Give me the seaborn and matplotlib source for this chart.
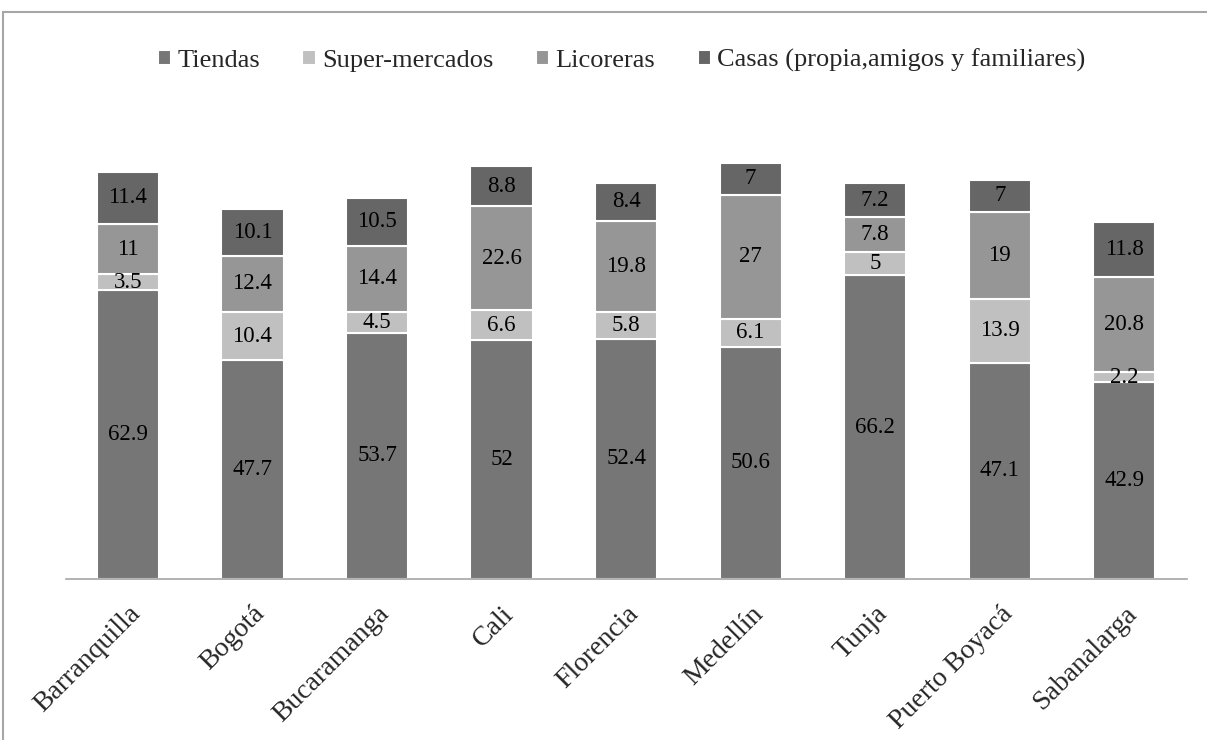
import numpy as np
import pandas as pd
import matplotlib
matplotlib.use('Agg')
import matplotlib.pyplot as plt
import seaborn as sns

# Data
cities = ['Barranquilla', 'Bogotá', 'Bucaramanga', 'Cali', 'Florencia',
          'Medellín', 'Tunja', 'Puerto Boyacá', 'Sabanalarga']
tiendas = [62.9, 47.7, 53.7, 52, 52.4, 50.6, 66.2, 47.1, 42.9]
supermercados = [3.5, 10.4, 4.5, 6.6, 5.8, 6.1, 5, 13.9, 2.2]
licoreras = [11, 12.4, 14.4, 22.6, 19.8, 27, 7.8, 19, 20.8]
casas = [11.4, 10.1, 10.5, 8.8, 8.4, 7, 7.2, 7, 11.8]

series = [
    ('Tiendas', tiendas, '#767676'),
    ('Super-mercados', supermercados, '#c0c0c0'),
    ('Licoreras', licoreras, '#969696'),
    ('Casas (propia,amigos y familiares)', casas, '#666666'),
]

sns.set_style('white')
plt.rcParams['font.family'] = ['Liberation Serif', 'DejaVu Serif']

fig = plt.figure(figsize=(12.07, 7.40), dpi=100)
ax = fig.add_axes([0.0544, 0.2176, 0.9287, 0.62])

bottom = np.zeros(len(cities))
for name, vals, col in series:
    df = pd.DataFrame({'city': cities, 'val': vals})
    sns.barplot(data=df, x='city', y='val', color=col, width=0.5,
                bottom=bottom.copy(), edgecolor='white', linewidth=1.5,
                label=name, ax=ax)
    bottom += np.array(vals)

for cont in ax.containers:
    ax.bar_label(cont, labels=['%g' % v.get_height() for v in cont],
                 label_type='center', fontsize=16.5, color='black')

handles, labels = ax.get_legend_handles_labels()
if ax.get_legend() is not None:
    ax.get_legend().remove()

ax.set_ylim(0, 100)
ax.set_xlim(-0.5, 8.5)
ax.set_xlabel('')
ax.set_ylabel('')
ax.set_yticks([])
for s in ['top', 'right', 'left']:
    ax.spines[s].set_visible(False)
ax.spines['bottom'].set_color('#a6a6a6')
ax.spines['bottom'].set_linewidth(1.2)
ax.tick_params(axis='x', length=0, pad=16)
plt.setp(ax.get_xticklabels(), rotation=45, ha='right', rotation_mode='anchor',
         fontsize=20)

fig.legend(handles, labels, loc='center', bbox_to_anchor=(0.515, 0.918), ncol=4,
           frameon=False, fontsize=19, handlelength=0.5, handleheight=0.5,
           handletextpad=0.25, columnspacing=1.6)

# light frame around the chart area
fig.patches.append(plt.Rectangle((3 / 1207, -0.05), 1.1, 1.05 - 12 / 740,
                                 transform=fig.transFigure, fill=False,
                                 edgecolor='#a6a6a6', linewidth=1.5))

fig.savefig('out.png', dpi=100)
